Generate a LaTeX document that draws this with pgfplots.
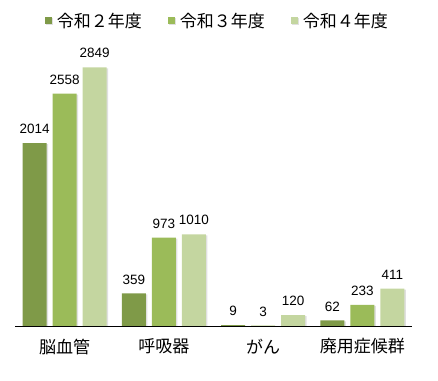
\documentclass[border=0pt]{standalone}
\usepackage{pgfplots}
\pgfplotsset{compat=1.18}
\usepackage{fontspec}
\setmainfont{Liberation Sans}
\newfontfamily\jp{Noto Sans CJK JP}
\definecolor{c1}{HTML}{7F9A48}
\definecolor{c2}{HTML}{9BBB59}
\definecolor{c3}{HTML}{C4D6A0}
\begin{document}
\begin{tikzpicture}
\path[use as bounding box] (0,0) rectangle (438bp,381bp);
\begin{axis}[
  at={(15bp,55bp)}, anchor=south west,
  scale only axis, width=397bp, height=266bp,
  xmin=-0.5, xmax=3.5, ymin=0, ymax=2929,
  ybar=6bp, bar width=24bp,
  hide y axis,
  axis x line=bottom,
  x axis line style={-, black, line width=0.8bp},
  xtick={0,1,2,3},
  xticklabels={脳血管,呼吸器,がん,廃用症候群},
  xtick style={draw=none},
  x tick label style={font=\jp\fontsize{17bp}{18bp}\selectfont, yshift=-7bp},
  /pgf/number format/.cd, 1000 sep={}, assume math mode=true, /pgfplots/.cd,
  nodes near coords,
  every node near coord/.append style={font=\fontsize{13.5bp}{14bp}\selectfont, black, inner sep=2bp, yshift=7bp},
  legend columns=3,
  legend style={draw=none, fill=none, at={(0.51,1.148)}, anchor=center,
    font=\jp\fontsize{17bp}{18bp}\selectfont,
    /tikz/every odd column/.append style={column sep=3bp},
    /tikz/every even column/.append style={column sep=24bp}},
  legend image code/.code={\fill[#1] (0bp,-3.5bp) rectangle (7bp,3.5bp);},
  every axis plot/.append style={preaction={fill=black!12, transform canvas={shift={(1.5bp,-1bp)}}}},
]
\addplot[fill=c1, draw=none] coordinates {(0,2014) (1,359) (2,9) (3,62)};
\addplot[fill=c2, draw=none] coordinates {(0,2558) (1,973) (2,3) (3,233)};
\addplot[fill=c3, draw=none] coordinates {(0,2849) (1,1010) (2,120) (3,411)};
\legend{令和２年度,令和３年度,令和４年度}
\end{axis}
\end{tikzpicture}
\end{document}
